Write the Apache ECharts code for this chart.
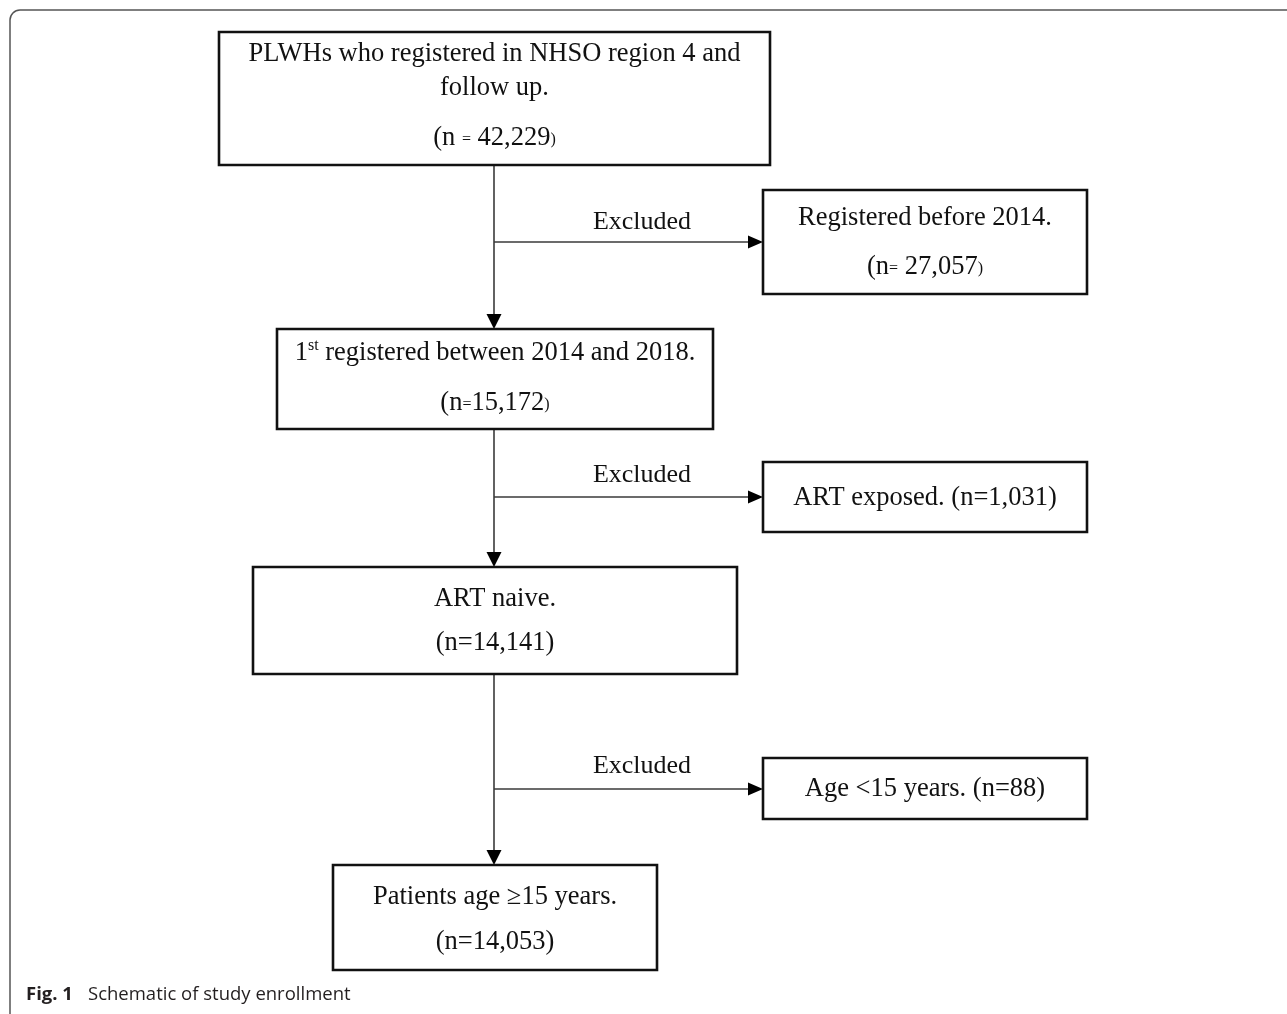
<!DOCTYPE html>
<html>
<head>
<meta charset="utf-8">
<script src="https://cdn.jsdelivr.net/npm/echarts@6/dist/echarts.min.js"></script>
<style>
  html, body { margin: 0; padding: 0; background: #fff; }
  #chart { width: 1287px; height: 1014px; }
</style>
</head>
<body>
<div id="chart"></div>
<script>
// ---------------- DATA ----------------
const mainSteps = [
  ['PLWHs who registered in NHSO region 4 and', 'follow up.'],
  ['1{sup|st} registered between 2014 and 2018.'],
  ['ART naive.'],
  ['Patients age \u226515 years.']
];
const mainCounts = ['42,229', '15,172', '14,141', '14,053'];
const exclusionReasons = ['Registered before 2014.', 'ART exposed.', 'Age <15 years.'];
const exclusionCounts = ['27,057', '1,031', '88'];
const branchLabel = 'Excluded';
const captionBold = 'Fig. 1';
const captionText = 'Schematic of study enrollment';

// ---------------- LAYOUT (pixel-space axis units) ----------------
const W = 1287, H = 1014;
const spineX = 494;
const mainLayout = [
  { box: [219, 32, 770, 165], lines: [54, 88], countY: 138, countStyle: 'spaced' },
  { box: [277, 329, 713, 429], lines: [353], countY: 403, countStyle: 'tight' },
  { box: [253, 567, 737, 674], lines: [599], countY: 643, countStyle: 'plain' },
  { box: [333, 865, 657, 970], lines: [897], countY: 942, countStyle: 'plain' }
];
const sideLayout = [
  { box: [763, 190, 1087, 294], lines: [218], countY: 267, countStyle: 'after', inline: false },
  { box: [763, 462, 1087, 532], lines: [498], countY: null, countStyle: 'plain', inline: true },
  { box: [763, 758, 1087, 819], lines: [789], countY: null, countStyle: 'plain', inline: true }
];
const branchY = [242, 497, 789];
const labelY = [222, 475, 766];
const labelX = 642;

const SERIF = '"Liberation Serif", "Times New Roman", serif';
const FS = 26.5;
const TEXT_COLOR = '#111';

function countText(n, style) {
  if (style === 'spaced') return '(n {s|=} ' + n + '{s|)}';
  if (style === 'tight') return '(n{s|=}' + n + '{s|)}';
  if (style === 'after') return '(n{s|=} ' + n + '{s|)}';
  return '(n=' + n + ')';
}
const richStyles = {
  s: { fontFamily: SERIF, fontSize: 16, fill: TEXT_COLOR, verticalAlign: 'bottom', lineHeight: 31, padding: [0, 0, 6, 0] },
  sup: { fontFamily: SERIF, fontSize: 16, fill: TEXT_COLOR, verticalAlign: 'top', lineHeight: 31, padding: [0, 0, 12, 0] }
};

function textEl(api, x, y, str, size) {
  const p = api.coord([x, y]);
  return {
    type: 'text',
    style: {
      text: str, x: p[0], y: p[1], align: 'center', verticalAlign: 'middle',
      fontFamily: SERIF, fontSize: size || FS, fill: TEXT_COLOR, lineHeight: 31,
      rich: richStyles
    }
  };
}

function boxRender(kind) {
  return function (params, api) {
    const i = api.value(0);
    const L = kind === 'main' ? mainLayout[i] : sideLayout[i];
    const a = api.coord([L.box[0], L.box[1]]);
    const b = api.coord([L.box[2], L.box[3]]);
    const cx = (L.box[0] + L.box[2]) / 2;
    const children = [{
      type: 'rect',
      shape: { x: a[0], y: a[1], width: b[0] - a[0], height: b[1] - a[1] },
      style: { fill: '#fff', stroke: '#111', lineWidth: 2.6 }
    }];
    if (kind === 'main') {
      mainSteps[i].forEach(function (s, k) { children.push(textEl(api, cx, L.lines[k], s)); });
      children.push(textEl(api, cx, L.countY, countText(mainCounts[i], L.countStyle)));
    } else {
      if (L.inline) {
        children.push(textEl(api, cx, L.lines[0], exclusionReasons[i] + ' ' + countText(exclusionCounts[i], L.countStyle)));
      } else {
        children.push(textEl(api, cx, L.lines[0], exclusionReasons[i]));
        children.push(textEl(api, cx, L.countY, countText(exclusionCounts[i], L.countStyle)));
      }
    }
    return { type: 'group', children: children };
  };
}

const LINE_COLOR = '#3a3a3a';
const AH = 15, AW = 7.5;

function connectorRender(params, api) {
  const i = api.value(0);
  const top = mainLayout[i].box[3];
  const bottom = mainLayout[i + 1].box[1];
  const p0 = api.coord([spineX, top]);
  const p1 = api.coord([spineX, bottom]);
  const by = api.coord([spineX, branchY[i]]);
  const side = api.coord([sideLayout[i].box[0], branchY[i]]);
  const lbl = api.coord([labelX, labelY[i]]);
  return {
    type: 'group',
    children: [
      { type: 'line', shape: { x1: p0[0], y1: p0[1], x2: p1[0], y2: p1[1] - AH + 2 }, style: { stroke: LINE_COLOR, lineWidth: 1.6 } },
      { type: 'polygon', shape: { points: [[p1[0] - AW, p1[1] - AH], [p1[0] + AW, p1[1] - AH], [p1[0], p1[1]]] }, style: { fill: '#000' } },
      { type: 'line', shape: { x1: by[0], y1: by[1], x2: side[0] - AH + 2, y2: side[1] }, style: { stroke: LINE_COLOR, lineWidth: 1.6 } },
      { type: 'polygon', shape: { points: [[side[0] - AH, side[1] - 6.5], [side[0] - AH, side[1] + 6.5], [side[0], side[1]]] }, style: { fill: '#000' } },
      { type: 'text', style: { text: branchLabel, x: lbl[0], y: lbl[1], align: 'center', verticalAlign: 'middle', fontFamily: SERIF, fontSize: 26, fill: TEXT_COLOR } }
    ]
  };
}

const chart = echarts.init(document.getElementById('chart'), null, { renderer: 'canvas' });
chart.setOption({
  backgroundColor: '#fff',
  animation: false,
  grid: { left: 0, right: 0, top: 0, bottom: 0 },
  xAxis: { type: 'value', min: 0, max: W, show: false },
  yAxis: { type: 'value', min: 0, max: H, inverse: true, show: false },
  graphic: [
    {
      type: 'polyline', silent: true,
      shape: { points: [[1287, 10], [20, 10]] },
      style: { stroke: '#555', lineWidth: 1.5, fill: null }
    },
    {
      type: 'arc', silent: true,
      shape: { cx: 20, cy: 20, r: 10, startAngle: Math.PI, endAngle: Math.PI * 1.5 },
      style: { stroke: '#555', lineWidth: 1.5, fill: null }
    },
    {
      type: 'polyline', silent: true,
      shape: { points: [[10, 20], [10, 1014]] },
      style: { stroke: '#555', lineWidth: 1.5, fill: null }
    },
    {
      type: 'text', left: 26, top: 985,
      style: { text: captionBold, font: 'bold 18.5px "Open Sans", sans-serif', fill: '#231f20' }
    },
    {
      type: 'text', left: 88, top: 985,
      style: { text: captionText, font: '18.5px "Open Sans", sans-serif', fill: '#231f20' }
    }
  ],
  series: [
    {
      type: 'custom', name: 'connectors', coordinateSystem: 'cartesian2d',
      data: [[0], [1], [2]], renderItem: connectorRender, silent: true
    },
    {
      type: 'custom', name: 'main', coordinateSystem: 'cartesian2d',
      data: mainSteps.map(function (_, i) { return [i]; }), renderItem: boxRender('main'), silent: true
    },
    {
      type: 'custom', name: 'side', coordinateSystem: 'cartesian2d',
      data: exclusionReasons.map(function (_, i) { return [i]; }), renderItem: boxRender('side'), silent: true
    }
  ]
});
</script>
</body>
</html>
